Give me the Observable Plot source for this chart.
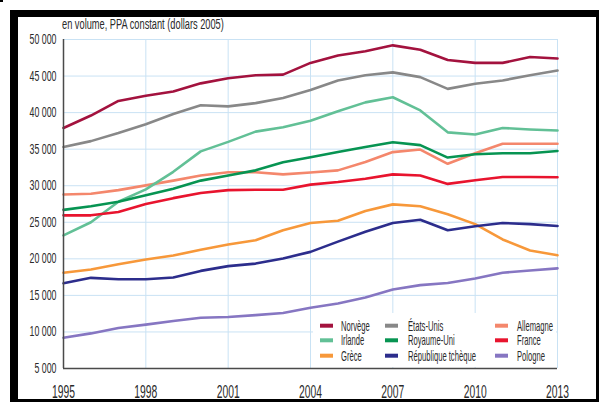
<!DOCTYPE html>
<html><head><meta charset="utf-8">
<script src="https://cdn.jsdelivr.net/npm/d3@7"></script>
<script src="https://cdn.jsdelivr.net/npm/@observablehq/plot@0.6"></script>
<style>
html,body{margin:0;padding:0;background:#fff;}
#chart{position:relative;width:599px;height:403px;overflow:hidden;}
svg{display:block;}
</style></head><body><div id="chart"></div>
<script>
const years = [1995,1996,1997,1998,1999,2000,2001,2002,2003,2004,2005,2006,2007,2008,2009,2010,2011,2012,2013];
const norvege    = [37900,39600,41600,42300,42900,44000,44700,45100,45200,46800,47800,48400,49200,48600,47200,46800,46800,47600,47400];
const etatsUnis  = [35300,36100,37200,38400,39800,41000,40850,41300,42000,43100,44400,45100,45500,44850,43250,43950,44400,45100,45750];
const allemagne  = [28800,28900,29400,30050,30700,31400,31850,31850,31550,31800,32100,33250,34600,34950,33000,34450,35750,35750,35750];
const irlande    = [23200,25000,27800,29500,31900,34700,36000,37400,38000,38900,40200,41400,42100,40300,37300,37000,37900,37700,37550];
const royaumeUni = [26700,27200,27800,28700,29600,30700,31400,32100,33200,33900,34600,35300,35950,35550,33850,34300,34450,34450,34750];
const france     = [25950,25950,26400,27500,28300,29000,29400,29450,29450,30150,30500,30950,31550,31400,30250,30750,31200,31200,31150];
const grece      = [18100,18550,19250,19900,20450,21250,21950,22550,23900,24900,25200,26550,27450,27200,26100,24750,22650,21150,20500];
const tcheque    = [16650,17400,17200,17200,17450,18350,19000,19350,20050,20950,22350,23700,24900,25350,23900,24450,24900,24750,24500];
const pologne    = [9200,9800,10550,11000,11500,11950,12050,12300,12600,13300,13900,14700,15800,16400,16700,17300,18100,18400,18700];

const countries = ["Norvège","États-Unis","Allemagne","Irlande","Royaume-Uni","France","Grèce","République tchèque","Pologne"];
const colors = ["#a3123e","#888888","#f4876c","#62c096","#079452","#e8142e","#f7983a","#2c2d8c","#8676c2"];
const seriesValues = [norvege,etatsUnis,allemagne,irlande,royaumeUni,france,grece,tcheque,pologne];
const xTicks = [1995,1998,2001,2004,2007,2010,2013];
const yTicks = [5000,10000,15000,20000,25000,30000,35000,40000,45000,50000];
const subtitle = "en volume, PPA constant (dollars 2005)";

const rows = countries.flatMap((c, i) => years.map((yr, j) => ({country: c, year: yr, value: seriesValues[i][j]})));

const FONT = "'Liberation Sans Narrow','Liberation Sans',Arial,sans-serif";
const GRID = "#c9e2f4";
const AXIS = "#4a4a4a";
const TEXT = "#2a2a2a";
const fmt = d => d3.format(",")(d).replace(/,/g, " ");

const plot = Plot.plot({
  width: 599, height: 403,
  marginLeft: 63, marginRight: 42, marginTop: 39, marginBottom: 35,
  style: {fontFamily: FONT, fontSize: "14px", color: TEXT, background: "transparent"},
  x: {domain: [1995, 2013], ticks: xTicks, tickFormat: d => String(d), tickSize: 0, tickPadding: 17, label: null},
  y: {domain: [5000, 50000], ticks: yTicks, tickFormat: fmt, tickSize: 0, tickPadding: 7, label: null},
  color: {domain: countries, range: colors},
  marks: [
    Plot.ruleX(xTicks.slice(1), {stroke: GRID, strokeWidth: 1}),
    Plot.ruleY(yTicks.slice(1), {stroke: GRID, strokeWidth: 1}),
    Plot.lineY(rows, {x: "year", y: "value", z: "country", stroke: "country", strokeWidth: 2.6, strokeLinejoin: "round", strokeLinecap: "round"}),
    Plot.ruleX([1995], {stroke: AXIS, strokeWidth: 1.5}),
    Plot.ruleY([5000], {stroke: AXIS, strokeWidth: 1.5})
  ]
});
document.getElementById("chart").appendChild(plot);
const svg = d3.select(plot);

function condense(sel, target, sample) {
  // scale texts horizontally so that the sample text reaches the target width
  let w = null;
  sel.each(function () { if (this.textContent === sample) w = this.getComputedTextLength(); });
  if (!w) return;
  const k = target / w;
  sel.each(function () {
    const t = this.getAttribute("transform") || "";
    this.setAttribute("transform", t + ` scale(${k},1)`);
  });
}

let xt = svg.selectAll('g[aria-label="x-axis tick label"] text');
if (xt.empty()) xt = svg.selectAll('g[aria-label="x-axis"] text');
let yt = svg.selectAll('g[aria-label="y-axis tick label"] text');
if (yt.empty()) yt = svg.selectAll('g[aria-label="y-axis"] text');
xt.attr("font-size", 18).attr("fill", TEXT).style("font-family", FONT);
yt.attr("font-size", 14).attr("fill", TEXT).style("font-family", FONT);
condense(xt, 23, "2013");
condense(yt, 27, "50 000");

// subtitle
const sub = svg.append("text").text(subtitle)
  .attr("transform", "translate(62,29)")
  .attr("text-anchor", "start")
  .attr("font-size", 15).attr("fill", TEXT).style("font-family", FONT);
condense(sub, 162, subtitle);

// legend
const lg = svg.append("g").attr("text-anchor", "start");
lg.append("rect").attr("x", 313).attr("y", 313).attr("width", 243).attr("height", 54).attr("fill", "#fff");
const colSw = [320, 385, 495];
const colTx = [341, 408, 517];
const rowY = [325.7, 340.3, 355.7];
const order = [["Norvège","États-Unis","Allemagne"],["Irlande","Royaume-Uni","France"],["Grèce","République tchèque","Pologne"]];
order.forEach((r, ri) => r.forEach((name, ci) => {
  const col = colors[countries.indexOf(name)];
  lg.append("rect").attr("x", colSw[ci]).attr("y", rowY[ri] - 2).attr("width", 13).attr("height", 4).attr("fill", col);
  lg.append("text").text(name)
    .attr("transform", `translate(${colTx[ci]},${rowY[ri] + 5})`)
    .attr("text-anchor", "start")
    .attr("font-size", 14).attr("fill", TEXT).style("font-family", FONT);
}));
condense(lg.selectAll("text"), 68, "République tchèque");

// frame
const fr = svg.append("g").attr("fill", "#000");
fr.append("rect").attr("x", 10).attr("y", 10).attr("width", 8).attr("height", 392);
fr.append("rect").attr("x", 10).attr("y", 10).attr("width", 589).attr("height", 7);
fr.append("rect").attr("x", 596).attr("y", 10).attr("width", 3).attr("height", 392);
fr.append("rect").attr("x", 10).attr("y", 399).attr("width", 589).attr("height", 3);
fr.append("rect").attr("x", 0).attr("y", 0).attr("width", 3).attr("height", 2);
</script>
</body></html>
